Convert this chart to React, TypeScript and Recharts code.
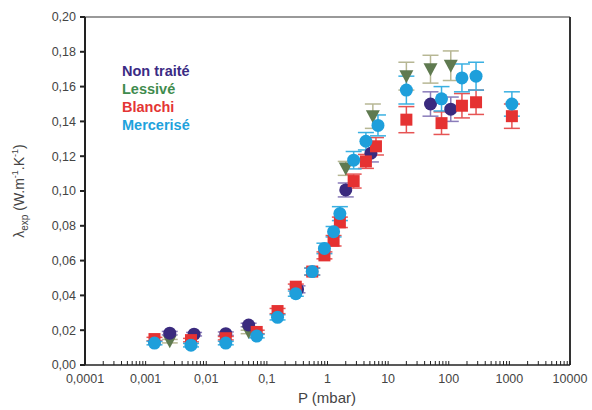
import React from "react";
import {
  ScatterChart,
  Scatter,
  XAxis,
  YAxis,
  ErrorBar,
  ReferenceLine,
} from "recharts";

// pressure (mbar) / lambda (W.m-1.K-1) / error
const nonTraiteP = [0.0025, 0.0063, 0.021, 0.05, 0.32, 2.0, 5.2, 50, 108];
const nonTraiteL = [0.0183, 0.0177, 0.018, 0.023, 0.0435, 0.1006, 0.1217, 0.15, 0.147];
const nonTraiteE = [0.001, 0.001, 0.001, 0.001, 0.002, 0.004, 0.005, 0.007, 0.007];

const lessiveP = [0.0025, 0.05, 2.0, 5.6, 20, 50, 108];
const lessiveL = [0.0137, 0.019, 0.113, 0.143, 0.166, 0.17, 0.172];
const lessiveE = [0.001, 0.001, 0.004, 0.007, 0.008, 0.008, 0.0085];

const blanchiP = [0.0014, 0.0056, 0.021, 0.068, 0.15, 0.3, 0.56, 0.89, 1.26, 1.6, 2.7, 4.3, 6.3, 20, 76, 165, 282, 1100];
const blanchiL = [0.0149, 0.0143, 0.0154, 0.019, 0.031, 0.045, 0.0537, 0.063, 0.0714, 0.082, 0.1057, 0.117, 0.1257, 0.141, 0.139, 0.149, 0.151, 0.143];
const blanchiE = [0.001, 0.001, 0.001, 0.001, 0.0015, 0.0015, 0.002, 0.002, 0.003, 0.003, 0.004, 0.004, 0.005, 0.0075, 0.0065, 0.007, 0.007, 0.007];

const merceriseP = [0.0014, 0.0056, 0.021, 0.068, 0.15, 0.3, 0.56, 0.89, 1.26, 1.6, 2.7, 4.3, 6.8, 20, 76, 165, 282, 1100];
const merceriseL = [0.0126, 0.0114, 0.0126, 0.0166, 0.0274, 0.041, 0.0537, 0.067, 0.0766, 0.087, 0.1177, 0.1286, 0.1377, 0.158, 0.153, 0.165, 0.166, 0.15];
const merceriseE = [0.001, 0.001, 0.001, 0.001, 0.0015, 0.0015, 0.002, 0.003, 0.003, 0.004, 0.005, 0.005, 0.006, 0.008, 0.007, 0.008, 0.008, 0.007];

const majorTicks = [0.0001, 0.001, 0.01, 0.1, 1, 10, 100, 1000, 10000];
const majorLabels = ["0,0001", "0,001", "0,01", "0,1", "1", "10", "100", "1000", "10000"];
const yTicks = [0, 0.02, 0.04, 0.06, 0.08, 0.1, 0.12, 0.14, 0.16, 0.18, 0.2];

const legendItems = [
  { name: "Non traité", color: "#3b2b84" },
  { name: "Lessivé", color: "#3f8c4e" },
  { name: "Blanchi", color: "#e43535" },
  { name: "Mercerisé", color: "#1ea2dc" },
];

const toRows = (p: number[], l: number[], e: number[]) =>
  p.map((x, i) => ({ p: x, l: l[i], err: e[i] }));

// major + minor ticks for the log axis
const xTicks: number[] = [];
majorTicks.forEach((m, i) => {
  if (i < majorTicks.length - 1) {
    for (let k = 1; k <= 9; k++) xTicks.push(parseFloat((m * k).toPrecision(3)));
  } else {
    xTicks.push(m);
  }
});

const font = "'Liberation Sans', Arial, sans-serif";

const XTick = (props: any) => {
  const { x, y, payload } = props;
  const idx = majorTicks.findIndex((m) => Math.abs(m - payload.value) / m < 1e-6);
  return (
    <g>
      <line x1={x} x2={x} y1={y} y2={y - 4} stroke="#222" strokeWidth={1} />
      {idx >= 0 && (
        <text x={x} y={y + 18} textAnchor="middle" fontSize={12.5} fill="#444" fontFamily={font}>
          {majorLabels[idx]}
        </text>
      )}
    </g>
  );
};

const YLabel = () => (
  <text
    transform="translate(24,191) rotate(-90)"
    textAnchor="middle"
    fontSize={14}
    fill="#444"
    fontFamily={font}
  >
    <tspan>λ</tspan>
    <tspan fontSize={10} dy={4}>exp</tspan>
    <tspan dy={-4}> (W.m</tspan>
    <tspan fontSize={9} dy={-6}>-1</tspan>
    <tspan dy={6}>.K</tspan>
    <tspan fontSize={9} dy={-6}>-1</tspan>
    <tspan dy={6}>)</tspan>
  </text>
);

const XLabel = () => (
  <text x={327} y={403} textAnchor="middle" fontSize={15} fill="#444" fontFamily={font}>
    P (mbar)
  </text>
);

const circleShape = (color: string) => (props: any) =>
  <circle cx={props.cx} cy={props.cy} r={6.5} fill={color} />;

const squareShape = (color: string) => (props: any) =>
  <rect x={props.cx - 6} y={props.cy - 6} width={12} height={12} fill={color} />;

const triDownShape = (color: string) => (props: any) => {
  const { cx, cy } = props;
  return (
    <polygon
      points={`${cx - 7},${cy - 6} ${cx + 7},${cy - 6} ${cx},${cy + 7}`}
      fill={color}
    />
  );
};

export default function App() {
  return (
    <div style={{ position: "absolute", left: 0, top: 0, width: 592, height: 410, background: "#fff" }}>
      <ScatterChart
        width={592}
        height={410}
        margin={{ top: 17, right: 22, bottom: 0, left: 0 }}
      >
        <XAxis
          dataKey="p"
          type="number"
          scale="log"
          domain={[0.0001, 10000]}
          allowDataOverflow
          ticks={xTicks}
          interval={0}
          tickSize={0}
          tickMargin={0}
          tickLine={false}
          tick={<XTick />}
          stroke="#222"
          strokeWidth={1.5}
          height={45}
          label={<XLabel />}
        />
        <YAxis
          dataKey="l"
          type="number"
          domain={[0, 0.2]}
          ticks={yTicks}
          interval={0}
          width={85}
          tickSize={5}
          tickMargin={4}
          stroke="#222"
          strokeWidth={2}
          tickFormatter={(v: number) => v.toFixed(2).replace(".", ",")}
          tick={{ fontSize: 12.5, fill: "#444", fontFamily: font }}
          label={<YLabel />}
        />
        <ReferenceLine y={0.2} stroke="#999" strokeWidth={2} />
        <ReferenceLine x={10000} stroke="#333" strokeWidth={2} />
        <Scatter
          name="Lessivé"
          data={toRows(lessiveP, lessiveL, lessiveE)}
          shape={triDownShape("#5f7a50")}
          isAnimationActive={false}
        >
          <ErrorBar dataKey="err" direction="y" width={8} stroke="#b7b794" strokeWidth={1.5} />
        </Scatter>
        <Scatter
          name="Non traité"
          data={toRows(nonTraiteP, nonTraiteL, nonTraiteE)}
          shape={circleShape("#3a2a7e")}
          isAnimationActive={false}
        >
          <ErrorBar dataKey="err" direction="y" width={8} stroke="#8a7cba" strokeWidth={1.5} />
        </Scatter>
        <Scatter
          name="Blanchi"
          data={toRows(blanchiP, blanchiL, blanchiE)}
          shape={squareShape("#e53232")}
          isAnimationActive={false}
        >
          <ErrorBar dataKey="err" direction="y" width={8} stroke="#e65454" strokeWidth={1.5} />
        </Scatter>
        <Scatter
          name="Mercerisé"
          data={toRows(merceriseP, merceriseL, merceriseE)}
          shape={circleShape("#1e9fdb")}
          isAnimationActive={false}
        >
          <ErrorBar dataKey="err" direction="y" width={8} stroke="#3ab0e2" strokeWidth={1.5} />
        </Scatter>
      </ScatterChart>
      <div
        style={{
          position: "absolute",
          left: 122,
          top: 62,
          fontFamily: font,
          fontWeight: "bold",
          fontSize: 14.5,
          lineHeight: "18px",
        }}
      >
        {legendItems.map((it) => (
          <div key={it.name} style={{ color: it.color }}>
            {it.name}
          </div>
        ))}
      </div>
    </div>
  );
}
